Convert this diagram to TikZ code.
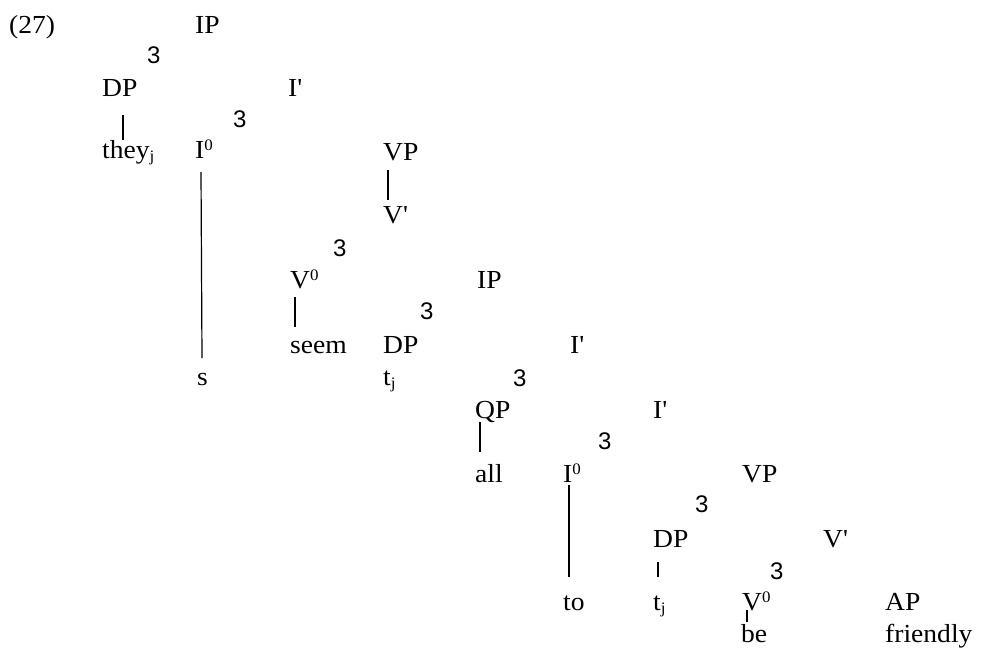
\documentclass[tikz,border=0pt]{standalone}
\usepackage{fontspec}
\setmainfont{Liberation Serif}[Ligatures=TeXOff,FakeStretch=1.06]
\newfontfamily\brfam{Liberation Sans}
\usetikzlibrary{calc}
\newcommand\mainsz{\fontsize{26}{30}\selectfont}
\newcommand\brfont{\brfam\fontsize{24}{26}\selectfont}
\newcommand\supo[1]{\raisebox{8pt}{\fontsize{16}{16}\selectfont #1}}
\newcommand\subo[1]{\raisebox{-3.5pt}{\fontsize{16}{16}\selectfont #1}}
\tikzset{
  lbl/.style={anchor=base west, inner sep=0pt, font=\mainsz},
  br/.style={anchor=base west, inner sep=0pt, font=\brfont},
  edge/.style={line width=1.2pt}
}
\begin{document}
\begin{tikzpicture}[x=1pt,y=-1pt]
\useasboundingbox (0,0) rectangle (1000,648);
% labels
\node[lbl] (ex)   at (9,33)   {(27)};
\node[lbl] (ip1)  at (195,33) {IP};
\node[lbl] (dp1)  at (102,96) {DP};
\node[lbl] (ib1)  at (288,96) {I'};
\node[lbl] (they) at (102,158) {they\subo{j}};
\node[lbl] (io1)  at (195,158) {I\supo{0}};
\node[lbl] (vp1)  at (383,160) {VP};
\node[lbl] (vb1)  at (383,223) {V'};
\node[lbl] (vo1)  at (290,288) {V\supo{0}};
\node[lbl] (ip2)  at (477,288) {IP};
\node[lbl] (seem) at (290,353) {seem};
\node[lbl] (dp2)  at (383,353) {DP};
\node[lbl] (ib2)  at (570,353) {I'};
\node[lbl] (s)    at (197,385) {s};
\node[lbl] (tj1)  at (383,385) {t\subo{j}};
\node[lbl] (qp)   at (475,418) {QP};
\node[lbl] (ib3)  at (653,418) {I'};
\node[lbl] (all)  at (475,482) {all};
\node[lbl] (io2)  at (563,482) {I\supo{0}};
\node[lbl] (vp2)  at (742,482) {VP};
\node[lbl] (dp3)  at (653,547) {DP};
\node[lbl] (vb2)  at (823,547) {V'};
\node[lbl] (to)   at (563,610) {to};
\node[lbl] (tj2)  at (653,610) {t\subo{j}};
\node[lbl] (vo2)  at (742,610) {V\supo{0}};
\node[lbl] (ap)   at (885,610) {AP};
\node[lbl] (be)   at (741,642) {be};
\node[lbl] (fr)   at (885,642) {friendly};
% branch marks
\node[br] (b1) at (147,63)  {3};
\node[br] (b2) at (233,127) {3};
\node[br] (b3) at (333,256) {3};
\node[br] (b4) at (420,319) {3};
\node[br] (b5) at (513,386) {3};
\node[br] (b6) at (598,449) {3};
\node[br] (b7) at (695,512) {3};
\node[br] (b8) at (770,579) {3};
% connectors
\draw[edge] ($(dp1.base west)+(21,19)$) -- ($(they.base west)+(21,-18)$);
\draw[edge] ($(io1.base west)+(6,14)$) -- ($(s.base west)+(5,-27)$);
\draw[edge] ($(vp1.base west)+(5,10)$) -- ($(vb1.base west)+(5,-23)$);
\draw[edge] ($(vo1.base west)+(5,9)$) -- ($(seem.base west)+(5,-26)$);
\draw[edge] ($(qp.base west)+(5,4)$) -- ($(all.base west)+(5,-30)$);
\draw[edge] ($(io2.base west)+(6,3)$) -- ($(to.base west)+(6,-33)$);
\draw[edge] ($(dp3.base west)+(5,15)$) -- ($(tj2.base west)+(5,-33)$);
\draw[edge] ($(vo2.base west)+(5,0)$) -- ($(be.base west)+(6,-20)$);
\end{tikzpicture}
\end{document}
